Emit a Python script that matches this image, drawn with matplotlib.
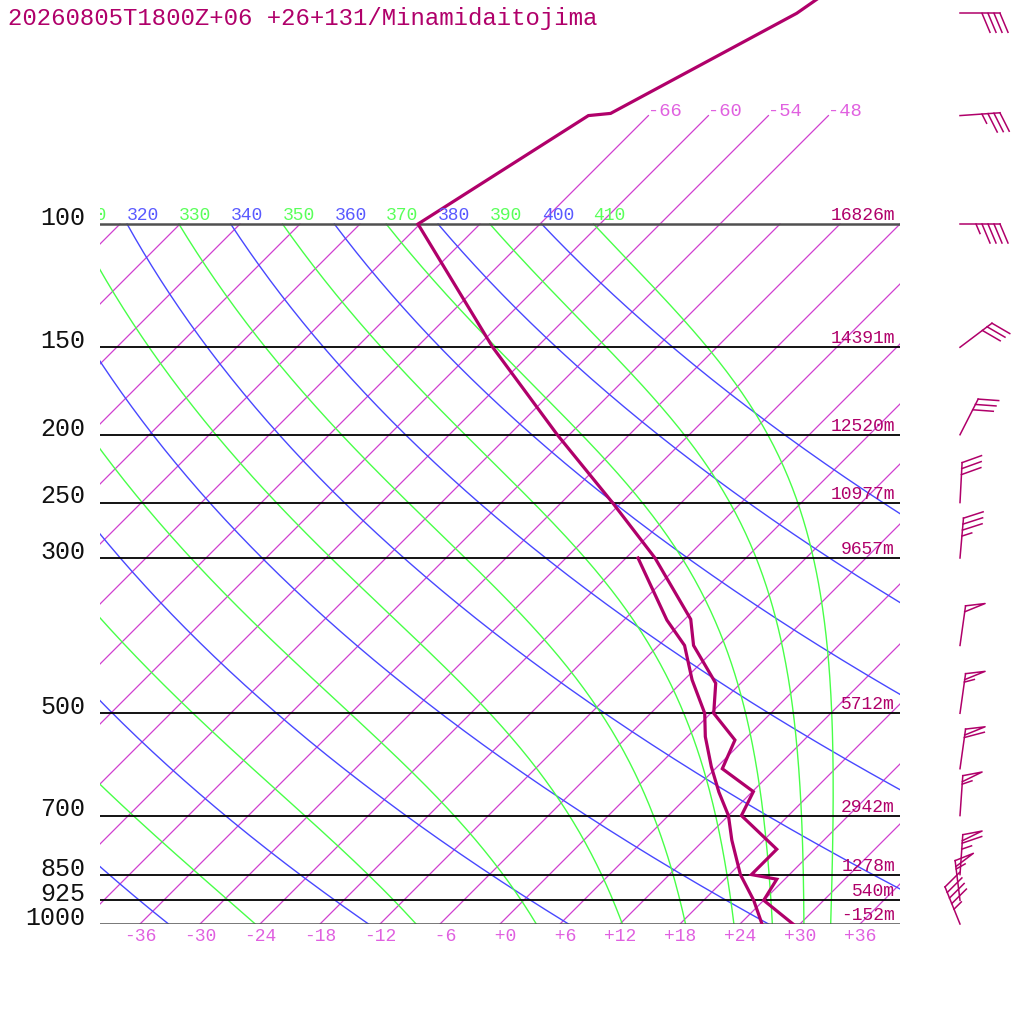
import numpy as np
import matplotlib
matplotlib.use("Agg")
import matplotlib.pyplot as plt

# sounding: pressure (hPa) and temperature / dewpoint (degC)
temp_p = [1000, 925, 863, 850, 782, 700, 647, 600, 546, 500, 453, 400, 367,
          300, 250, 200, 150, 100, 70, 69.5, 50, 45]
temp_t = [29.3, 24.0, 23.2, 20.2, 20.2, 13.3, 12.1, 6.7, 5.1, 0.3, -2.5, -8.5,
          -11.4, -21.1, -30.9, -43.2, -58.4, -78.2, -72.0, -70.0, -61.4, -60.0]

dew_p = [1000, 925, 850, 759, 700, 648, 596, 540, 500, 448, 400, 368, 300]
dew_t = [26.2, 23.0, 19.1, 14.8, 12.0, 8.7, 5.4, 1.8, -0.6, -5.2, -9.4, -13.7, -22.8]

# winds: direction (deg from), speed (kt)
wind_p = [50, 70, 100, 150, 200, 250, 300, 400, 500, 600, 700, 850, 925, 1000]
wind_dir = [90, 86, 90, 53, 27, 3, 5, 8, 8, 8, 4, 4, 353, 338]
wind_spd = [40, 35, 45, 30, 30, 30, 35, 50, 55, 60, 55, 65, 55, 45]

# standard levels with geopotential heights
lev_p = [100, 150, 200, 250, 300, 500, 700, 850, 925, 1000]
lev_h = ["16826m", "14391m", "12520m", "10977m", "9657m", "5712m", "2942m",
         "1278m", "540m", "-152m"]

isotherms = list(range(-108, 37, 6))
iso_tall = [-66, -60, -54, -48]       # these ones run up to 70 hPa
tick_t = list(range(-36, 37, 6))
dry_theta = list(range(240, 401, 20))
moist_theta = list(range(250, 411, 20))

title = "20260805T1800Z+06 +26+131/Minamidaitojima"

PROF = "#b0006a"
MAG = "#d040d0"
MAGTXT = "#e060e0"
BLUE = "#4848ff"
GREEN = "#48ff48"
FONT = "Liberation Mono"

SKEW = 30.4
RD, CP, LV, EPS = 287.04, 1005.7, 2.501e6, 0.622


def skx(t, p):
    return np.asarray(t, float) + SKEW * np.log(1000.0 / np.asarray(p, float))


def rsat(tk, p):
    es = 6.112 * np.exp(17.67 * (tk - 273.15) / (tk - 29.65))
    return EPS * es / (p - es)


def dtdlnp(tk, p):
    rs = rsat(tk, p)
    return (RD * tk + LV * rs) / (CP + LV * LV * rs * EPS / (RD * tk * tk))


def moist(theta, plev):
    lnp = np.log(plev)
    t = np.empty(len(plev))
    t[0] = theta * (plev[0] / 1000.0) ** (RD / CP)
    for i in range(1, len(plev)):
        h = lnp[i] - lnp[i - 1]
        x0 = lnp[i - 1]
        k1 = dtdlnp(t[i - 1], np.exp(x0))
        k2 = dtdlnp(t[i - 1] + h * k1 / 2, np.exp(x0 + h / 2))
        k3 = dtdlnp(t[i - 1] + h * k2 / 2, np.exp(x0 + h / 2))
        k4 = dtdlnp(t[i - 1] + h * k3, np.exp(x0 + h))
        t[i] = t[i - 1] + h * (k1 + 2 * k2 + 2 * k3 + k4) / 6
    return t - 273.15


fig = plt.figure(figsize=(10.24, 10.24), dpi=100)
rect = [100 / 1024, 100 / 1024, 800 / 1024, 924 / 1024]
ax = fig.add_axes(rect)
ax.set_yscale("log")
ptop = 1000 * np.exp(-924 / 304)
ax.set_ylim(1000, ptop)
ax.set_xlim(-40, 40)
ax.axis("off")

pp = np.geomspace(100, 1000, 200)

# isotherms
for t in isotherms:
    top = 70 if t in iso_tall else 100
    ps = np.array([1000, top])
    ax.plot(skx([t, t], ps), ps, color=MAG, lw=0.9)
for t in iso_tall:
    ax.text(skx(t, 70), 70.0, "%d" % t, color=MAGTXT, fontsize=13.5,
            family=FONT, ha="left", va="baseline")

# dry adiabats
for th in dry_theta:
    tt = th * (pp / 1000.0) ** (RD / CP) - 273.15
    ax.plot(skx(tt, pp), pp, color=BLUE, lw=1.0)
    x0 = skx(tt[0], 100)
    if x0 > -44:
        ax.text(x0, 100, str(th), color="#5a5aff", fontsize=13,
                family=FONT, ha="left", va="bottom", clip_on=True)

# moist adiabats
for th in moist_theta:
    tt = moist(th, pp)
    ax.plot(skx(tt, pp), pp, color=GREEN, lw=1.0)
    x0 = skx(tt[0], 100)
    if x0 > -44:
        ax.text(x0, 100, str(th), color="#5aff5a", fontsize=13,
                family=FONT, ha="left", va="bottom", clip_on=True)

# pressure lines and labels
for p, h in zip(lev_p, lev_h):
    edge = p in (100, 1000)
    ax.plot([-40, 40], [p, p], color="#505050" if edge else "black",
            lw=1.8 if edge else 1.3)
    ax.text(-41.5, p * 1.003, str(p), fontsize=18, family=FONT, color="#111111",
            ha="right", va="baseline", clip_on=False)
    ax.text(39.5, p, h, fontsize=13, family=FONT, color=PROF,
            ha="right", va="bottom", clip_on=False)

# temperature ticks along the bottom
for t in tick_t:
    ax.text(t, 1013, ("%+d" % t).rjust(3), fontsize=13, family=FONT,
            color=MAGTXT, ha="center", va="top", clip_on=False)

# profiles
ax.plot(skx(temp_t, temp_p), temp_p, color=PROF, lw=2.3, solid_joinstyle="miter")
ax.plot(skx(dew_t, dew_p), dew_p, color=PROF, lw=2.3, solid_joinstyle="miter")

# wind barbs, drawn on a pixel overlay (narrow open pennants like the original)
fx = fig.add_axes([0, 0, 1, 1])
fx.set_xlim(0, 1024)
fx.set_ylim(1024, 0)
fx.axis("off")
fx.patch.set_alpha(0)
to_px = ax.transData + fx.transData.inverted()
STAFF, FEATH, SLANT, GAP = 40.0, 19.0, 8.0, 6.0
for p, wdir, spd in zip(wind_p, wind_dir, wind_spd):
    sx, sy = to_px.transform((46.0, p))
    a = np.radians(wdir)
    d = np.array([np.sin(a), -np.cos(a)])     # toward the source, image coords
    n = np.array([np.cos(a), np.sin(a)])      # feather side
    s0 = np.array([sx, sy])
    e = s0 + STAFF * d
    fx.plot([s0[0], e[0]], [s0[1], e[1]], color=PROF, lw=1.1)
    nflag, rest = divmod(int(round(spd / 5.0)) * 5, 50)
    nfull, rest = divmod(rest, 10)
    nhalf = rest // 5
    off = 0.0
    for i in range(nflag):
        b = e - off * d
        tip = b + FEATH * n + 5 * d
        back = b - 6 * d
        fx.plot([b[0], tip[0], back[0]], [b[1], tip[1], back[1]],
                color=PROF, lw=1.1)
        off += 8.5
    for i in range(nfull):
        b = e - off * d
        tip = b + FEATH * n + SLANT * d
        fx.plot([b[0], tip[0]], [b[1], tip[1]], color=PROF, lw=1.1)
        off += GAP
    for i in range(nhalf):
        b = e - off * d
        tip = b + FEATH / 2 * n + SLANT / 2 * d
        fx.plot([b[0], tip[0]], [b[1], tip[1]], color=PROF, lw=1.1)
        off += GAP

fig.text(8 / 1024, 1 - 18 / 1024, title, fontsize=17.3, family=FONT,
         color=PROF, ha="left", va="center")

fig.savefig("out.png", dpi=100, facecolor="white")
